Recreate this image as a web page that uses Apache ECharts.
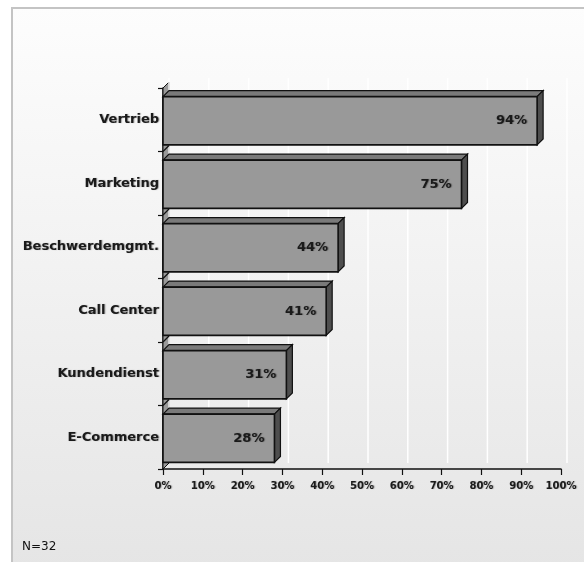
<!DOCTYPE html>
<html>
<head>
<meta charset="utf-8">
<script src="https://cdn.jsdelivr.net/npm/echarts@6/dist/echarts.min.js"></script>
<style>
  html, body { margin: 0; padding: 0; background: #ffffff; }
  #chart { width: 584px; height: 562px; }
</style>
</head>
<body>
<div id="chart"></div>
<script>
// Departments and share of respondents (percent)
var categories = ['Vertrieb', 'Marketing', 'Beschwerdemgmt.', 'Call Center', 'Kundendienst', 'E-Commerce'];
var values = [94, 75, 44, 41, 31, 28];
var tickValues = [0, 10, 20, 30, 40, 50, 60, 70, 80, 90, 100];
var sampleNote = 'N=32';

var DEPTH = 6;
var FONT = '"DejaVu Sans", Verdana, sans-serif';

var chart = echarts.init(document.getElementById('chart'), null, { renderer: 'canvas' });

// Back wall grid lines, shifted by the 3D depth; the first item also draws the left wall
function renderWall(params, api) {
  var v = api.value(0);
  var band = api.size([0, 1])[1];
  var first = api.coord([v, 0]);
  var last = api.coord([v, categories.length - 1]);
  var yTop = first[1] - band / 2;
  var yBot = last[1] + band / 2;
  var x = first[0] + DEPTH;
  var children = [{
    type: 'line',
    shape: { x1: x, y1: yTop - DEPTH - 4, x2: x, y2: yBot - DEPTH },
    style: { stroke: '#ffffff', lineWidth: 1.5 }
  }];
  if (params.dataIndex === 0) {
    var x0 = first[0];
    children.unshift({
      type: 'polygon',
      shape: { points: [[x0, yTop], [x0 + DEPTH, yTop - DEPTH], [x0 + DEPTH, yBot - DEPTH], [x0, yBot]] },
      style: { fill: '#9a9a9a', stroke: '#111', lineWidth: 1 }
    });
    for (var i = 1; i < categories.length; i++) {
      var yb = api.coord([0, i])[1] - band / 2;
      children.push({
        type: 'line',
        shape: { x1: x0, y1: yb, x2: x0 + DEPTH, y2: yb - DEPTH },
        style: { stroke: '#111', lineWidth: 1.2 }
      });
    }
  }
  return { type: 'group', children: children };
}

// 3D bar: front face, top face and right side face
function renderBar(params, api) {
  var idx = api.value(0);
  var val = api.value(1);
  var start = api.coord([0, idx]);
  var end = api.coord([val, idx]);
  var band = api.size([0, 1])[1];
  var h = band * 0.76;
  var x0 = start[0], x1 = end[0];
  var y0 = start[1] - h / 2 + 1, y1 = start[1] + h / 2 + 1;
  var d = DEPTH;
  return {
    type: 'group',
    children: [
      {
        type: 'polygon',
        shape: { points: [[x0, y0], [x0 + d, y0 - d], [x1 + d, y0 - d], [x1, y0]] },
        style: { fill: '#7a7a7a', stroke: '#111', lineWidth: 1.2 }
      },
      {
        type: 'polygon',
        shape: { points: [[x1, y0], [x1 + d, y0 - d], [x1 + d, y1 - d], [x1, y1]] },
        style: { fill: '#4e4e4e', stroke: '#111', lineWidth: 1.2 }
      },
      {
        type: 'rect',
        shape: { x: x0, y: y0, width: x1 - x0, height: y1 - y0 },
        style: { fill: '#999999', stroke: '#111', lineWidth: 1.6 }
      },
      {
        type: 'text',
        style: {
          text: val + '%',
          x: x1 - 10, y: (y0 + y1) / 2,
          align: 'right', verticalAlign: 'middle',
          font: 'bold 13px ' + FONT,
          fill: '#1a1a1a',
          textShadowColor: 'rgba(0,0,0,0.35)', textShadowBlur: 1, textShadowOffsetX: 1
        }
      }
    ]
  };
}

var option = {
  backgroundColor: 'transparent',
  animation: false,
  graphic: [
    {
      type: 'rect', z: -10,
      shape: { x: 12, y: 8, width: 584, height: 562 },
      style: {
        fill: new echarts.graphic.LinearGradient(0, 0, 0, 1, [
          { offset: 0, color: '#fdfdfd' },
          { offset: 1, color: '#e5e5e5' }
        ]),
        stroke: '#c4c4c4', lineWidth: 2
      }
    },
    {
      type: 'text', left: 22, top: 541,
      style: { text: sampleNote, font: '12px ' + FONT, fill: '#111' }
    }
  ],
  grid: { left: 163, right: 23, top: 88, bottom: 93, containLabel: false },
  xAxis: {
    type: 'value', min: 0, max: 100, interval: 10,
    axisLine: { show: true, lineStyle: { color: '#111', width: 1.5 } },
    axisTick: { show: true, length: 6, lineStyle: { color: '#111', width: 1.2 } },
    splitLine: { show: false },
    axisLabel: {
      formatter: '{value}%', margin: 12,
      fontFamily: FONT, fontSize: 10, fontWeight: 'bold', color: '#1a1a1a',
      textShadowColor: 'rgba(0,0,0,0.3)', textShadowBlur: 1, textShadowOffsetX: 1
    }
  },
  yAxis: {
    type: 'category', data: categories, inverse: true,
    axisLine: { show: true, lineStyle: { color: '#111', width: 1.5 } },
    axisTick: { show: true, length: 5, lineStyle: { color: '#111', width: 1.2 } },
    axisLabel: {
      margin: 4,
      fontFamily: FONT, fontSize: 13, fontWeight: 'bold', color: '#1a1a1a',
      textShadowColor: 'rgba(0,0,0,0.35)', textShadowBlur: 1, textShadowOffsetX: 1
    }
  },
  series: [
    {
      type: 'custom', renderItem: renderWall, z: 1,
      data: tickValues.map(function (v) { return [v]; }),
      encode: { x: 0 }, silent: true
    },
    {
      type: 'custom', renderItem: renderBar, z: 3,
      data: values.map(function (v, i) { return [i, v]; }),
      encode: { y: 0, x: 1 }
    }
  ]
};

chart.setOption(option);
</script>
</body>
</html>
